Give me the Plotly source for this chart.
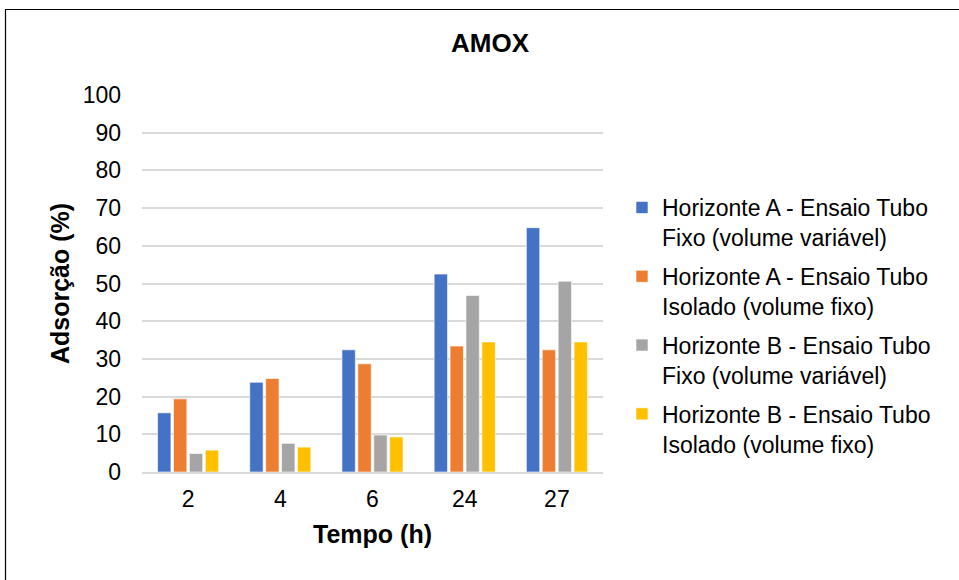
import plotly.graph_objects as go

categories = ["2", "4", "6", "24", "27"]
series_names = [
    "Horizonte A - Ensaio Tubo<br>Fixo (volume variável)",
    "Horizonte A - Ensaio Tubo<br>Isolado (volume fixo)",
    "Horizonte B - Ensaio Tubo<br>Fixo (volume variável)",
    "Horizonte B - Ensaio Tubo<br>Isolado (volume fixo)",
]
hA_fixo = [15.7, 23.8, 32.4, 52.5, 64.8]
hA_isolado = [19.4, 24.8, 28.7, 33.4, 32.4]
hB_fixo = [4.9, 7.6, 9.8, 46.8, 50.6]
hB_isolado = [5.8, 6.6, 9.3, 34.5, 34.5]
colors = ["#4472C4", "#ED7D31", "#A5A5A5", "#FFC000"]
y_ticks = [0, 10, 20, 30, 40, 50, 60, 70, 80, 90, 100]

FONT = "Liberation Sans, Arial, sans-serif"

fig = go.Figure()
for i, (name, vals) in enumerate(zip(series_names, [hA_fixo, hA_isolado, hB_fixo, hB_isolado])):
    fig.add_trace(go.Bar(
        x=categories, y=vals, name=name,
        marker=dict(color=colors[i], line=dict(color="white", width=0.6)),
        legendgroup=f"g{i}",
    ))

L, R, T, B = 142, 356, 95, 108
W, H = 959, 580
pw = W - L - R
ph = H - T - B

def px_x(p):
    return (p - L) / pw

def px_y(p):
    return (H - B - p) / ph

fig.update_layout(
    width=W, height=H,
    margin=dict(l=L, r=R, t=T, b=B),
    paper_bgcolor="white", plot_bgcolor="white",
    font=dict(family=FONT, color="#000000", size=23),
    title=dict(text="<b>AMOX</b>", xref="container", x=490 / W, xanchor="center",
               yref="container", y=1 - 43 / H, yanchor="middle",
               font=dict(size=26, family=FONT, color="#000000")),
    barmode="group", bargap=0.31, bargroupgap=0.16,
    showlegend=True,
    legend=dict(x=px_x(622), xanchor="left", y=px_y(186), yanchor="top",
                font=dict(size=23, family=FONT, color="#000000"),
                valign="top", traceorder="grouped", tracegroupgap=6,
                bgcolor="rgba(0,0,0,0)"),
    xaxis=dict(type="category", showgrid=False, showline=True,
               linecolor="#D9D9D9", linewidth=1.5,
               ticks="", ticklabelstandoff=6,
               tickfont=dict(size=23, family=FONT, color="#000000"),
               title=dict(text="<b>Tempo (h)</b>", standoff=14,
                          font=dict(size=25, family=FONT, color="#000000"))),
    yaxis=dict(range=[0, 100], tickvals=y_ticks, showgrid=True,
               gridcolor="#D9D9D9", gridwidth=1.5, zeroline=False,
               showline=False, ticks="", ticklabelstandoff=20,
               tickfont=dict(size=23, family=FONT, color="#000000"),
               title=dict(text="<b>Adsorção (%)</b>", standoff=5,
                          font=dict(size=25, family=FONT, color="#000000"))),
)

# chart frame (top and left edges visible)
fig.add_shape(type="line", xref="paper", yref="paper",
              x0=px_x(5), x1=px_x(960), y0=px_y(9.5), y1=px_y(9.5),
              line=dict(color="#000000", width=1.2))
fig.add_shape(type="line", xref="paper", yref="paper",
              x0=px_x(5.5), x1=px_x(5.5), y0=px_y(9.5), y1=px_y(585),
              line=dict(color="#000000", width=1.2))

fig.write_html("out.html")
